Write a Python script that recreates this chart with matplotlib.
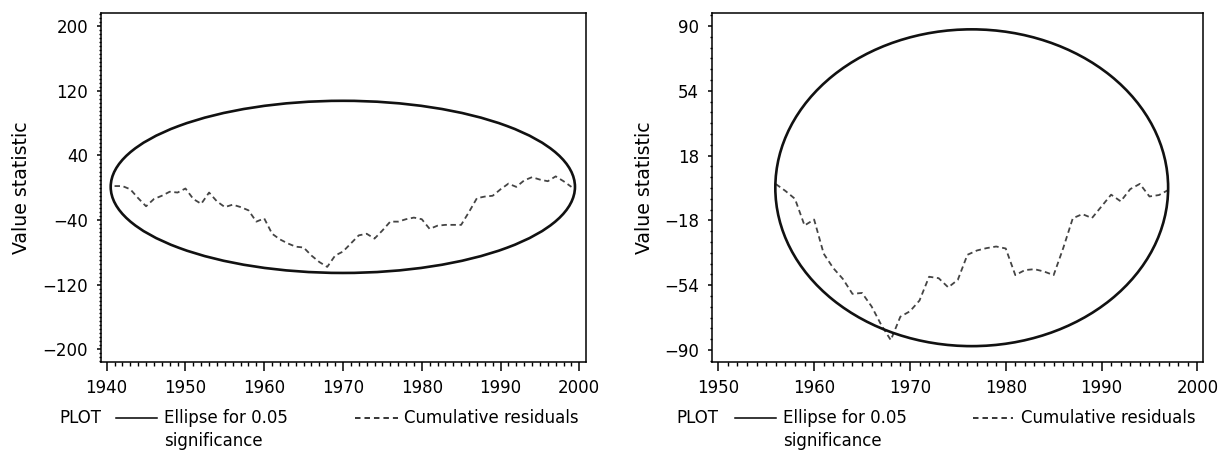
import numpy as np
import matplotlib
matplotlib.use("Agg")
import matplotlib.pyplot as plt
from matplotlib.patches import Ellipse
from matplotlib.lines import Line2D
from matplotlib.ticker import MultipleLocator

# ---------------- data ----------------
years_left = list(range(1941, 2000))
resid_left = [2, 2, -2, -13, -23, -14, -10, -5, -6, -1,
              -14, -20, -6, -17, -24, -21, -24, -28, -42, -38,
              -57, -64, -69, -73, -74, -84, -92, -98, -84, -79,
              -69, -59, -57, -63, -53, -42, -42, -39, -37, -39,
              -51, -47, -46, -46, -46, -30, -13, -11, -10, -2,
              5, 1, 9, 13, 10, 8, 14, 8, 1]
ellipse_left = dict(cx=1969.98, cy=1.0, a=29.47, b=106.5)
yticks_left = [-200, -120, -40, 40, 120, 200]
xticks_left = [1940, 1950, 1960, 1970, 1980, 1990, 2000]

years_right = list(range(1956, 1998))
resid_right = [2.2, -1.6, -6.0, -20.8, -17.5, -36.5, -44.5, -50.5, -58.8, -58.3,
               -65.8, -76.0, -84.5, -71.5, -68.5, -62.5, -49.3, -50.1, -55.2, -51.0,
               -37.1, -34.7, -33.4, -32.5, -33.6, -48.4, -45.6, -45.1, -46.4, -48.4,
               -33.4, -16.8, -14.5, -16.7, -10.2, -3.7, -7.4, -0.6, 2.3, -4.7,
               -3.9, -1.0]
ellipse_right = dict(cx=1976.45, cy=0.15, a=20.5, b=88.0)
yticks_right = [-90, -54, -18, 18, 54, 90]
xticks_right = [1950, 1960, 1970, 1980, 1990, 2000]

ylabel = "Value statistic"
legend_title = "PLOT"
legend_solid = "Ellipse for 0.05\nsignificance"
legend_dash = "Cumulative residuals"

# ---------------- style ----------------
FS = 12.0
plt.rcParams['font.family'] = ['DejaVu Sans']
W, H = 1225, 450
fig = plt.figure(figsize=(W / 100, H / 100), dpi=100)

def fx(px):
    return px / W

def fy(py):
    return 1 - py / H

def setup(ax, xlim, ylim, xt, yt, yminor):
    ax.set_xlim(*xlim)
    ax.set_ylim(*ylim)
    ax.set_xticks(xt)
    ax.set_yticks(yt)
    ax.set_yticklabels([str(v).replace('-', '\u2212') for v in yt])
    ax.xaxis.set_minor_locator(MultipleLocator(1))
    ax.yaxis.set_minor_locator(MultipleLocator(yminor))
    for s in ax.spines.values():
        s.set_linewidth(1.1)
        s.set_color('black')
    ax.tick_params(axis='x', which='major', direction='out', length=6.5, width=1.1,
                   pad=6, labelsize=FS, top=False)
    ax.tick_params(axis='x', which='minor', direction='out', length=3.2, width=1.0, top=False)
    ax.tick_params(axis='y', which='major', direction='out', length=3.2, width=1.1,
                   pad=6, labelsize=FS, right=False)
    ax.tick_params(axis='y', which='minor', direction='out', length=1.8, width=1.0, right=False)

def panel(ax, years, resid, ell):
    e = Ellipse((ell['cx'], ell['cy']), width=2 * ell['a'], height=2 * ell['b'],
                fill=False, edgecolor='#111111', linewidth=1.9, zorder=3)
    ax.add_patch(e)
    ax.plot(years, resid, color='#444444', linewidth=1.3,
            linestyle=(0, (3.0, 2.0)), zorder=2)

bottom = fy(361.7)
height = (361.7 - 12.7) / H

ax1 = fig.add_axes([fx(100.7), bottom, fx(485.3), height])
setup(ax1, (1939.24, 2000.85), (-215.3, 216.5), xticks_left, yticks_left, 5)
panel(ax1, years_left, resid_left, ellipse_left)

ax2 = fig.add_axes([fx(711.7), bottom, fx(491.4), height])
setup(ax2, (1949.31, 2000.6), (-96.5, 97.4), xticks_right, yticks_right, 6)
panel(ax2, years_right, resid_right, ellipse_right)

# y labels
fig.text(fx(22), fy(188), ylabel, rotation=90, ha='center', va='center', fontsize=13.6)
fig.text(fx(644), fy(188), ylabel, rotation=90, ha='center', va='center', fontsize=13.6)

# legends
def legend(x_plot, x_l1, x_l2, x_t1, x_d1, x_d2, x_t2):
    yl = fy(418)
    fig.text(fx(x_plot), yl, legend_title, ha='left', va='center', fontsize=FS)
    fig.add_artist(Line2D([fx(x_l1), fx(x_l2)], [yl, yl], color='black', linewidth=1.1,
                          transform=fig.transFigure))
    lines = legend_solid.split('\n')
    fig.text(fx(x_t1), yl, lines[0], ha='left', va='center', fontsize=FS)
    fig.text(fx(x_t1), fy(440.5), lines[1], ha='left', va='center', fontsize=FS)
    fig.add_artist(Line2D([fx(x_d1), fx(x_d2)], [yl, yl], color='black', linewidth=1.1,
                          linestyle=(0, (3.6, 2.6)), transform=fig.transFigure))
    fig.text(fx(x_t2), yl, legend_dash, ha='left', va='center', fontsize=FS)

legend(59, 116, 157.3, 164, 355, 398.3, 404)
legend(676.7, 735, 776, 782.7, 973.3, 1013.3, 1020.7)

fig.savefig("out.png", dpi=100)
